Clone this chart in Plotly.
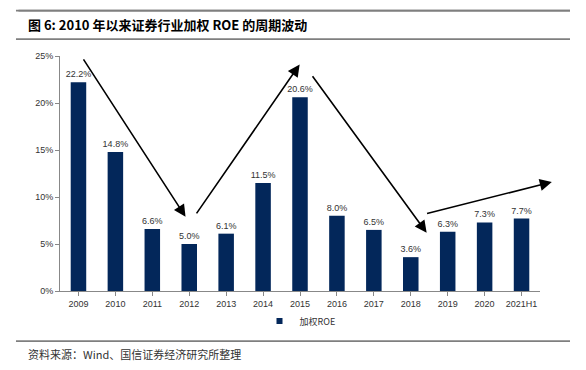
import plotly.graph_objects as go

categories = ["2009", "2010", "2011", "2012", "2013", "2014", "2015", "2016", "2017", "2018", "2019", "2020", "2021H1"]
roe = [22.2, 14.8, 6.6, 5.0, 6.1, 11.5, 20.6, 8.0, 6.5, 3.6, 6.3, 7.3, 7.7]
series_name = "加权ROE"
title_text = "图 6: 2010 年以来证券行业加权 ROE 的周期波动"
source_text = "资料来源：Wind、国信证券经济研究所整理"
y_ticks = [0, 5, 10, 15, 20, 25]
y_tick_labels = ["0%", "5%", "10%", "15%", "20%", "25%"]
# trend arrows: (start index, start value, end index, end value)
arrows = [
    (0.11, 24.8, 2.9, 7.9),
    (3.17, 8.1, 5.99, 24.1),
    (6.31, 23.0, 9.43, 6.2),
    (9.40, 8.2, 12.82, 11.6),
]

bar_color = "#03275A"
txt_font = "Liberation Sans"
rule_color = "#7f7f7f"

fig = go.Figure()
fig.add_trace(go.Bar(
    x=list(range(len(categories))), y=roe, name=series_name,
    marker=dict(color=bar_color, line=dict(width=0)),
    width=0.42,
    text=[f"{v:.1f}%" for v in roe], textposition="outside",
    constraintext="none",
    textfont=dict(size=9, color="#333333", family=txt_font),
    cliponaxis=False,
    showlegend=False,
))
# legend swatch
fig.add_trace(go.Scatter(
    x=[None], y=[None], mode="markers", name=series_name,
    marker=dict(symbol="square", size=6, color=bar_color),
    showlegend=True,
))

annotations = []
for (x0, y0, x1, y1) in arrows:
    annotations.append(dict(
        x=x1, y=y1, ax=x0, ay=y0, xref="x", yref="y", axref="x", ayref="y",
        showarrow=True, arrowhead=2, arrowsize=1.5, arrowwidth=1.6,
        arrowcolor="#000000", text="",
    ))
annotations.append(dict(
    x=-0.071, y=1.136, xref="paper", yref="paper", xanchor="left", yanchor="middle",
    text=f"<b>{title_text}</b>", showarrow=False,
    font=dict(size=13, color="#000000", family="Noto Sans CJK SC"),
))
annotations.append(dict(
    x=-0.071, y=-0.268, xref="paper", yref="paper", xanchor="left", yanchor="middle",
    text=source_text, showarrow=False,
    font=dict(size=11, color="#333333", family="Noto Sans CJK SC"),
))
# top rule drawn as a plain annotation line as well
annotations.append(dict(
    x=1.0625, y=1.193, xref="paper", yref="paper", axref="pixel", ayref="pixel",
    ax=-553, ay=0, text="", showarrow=True, arrowhead=0, arrowwidth=1.8,
    arrowcolor=rule_color, standoff=0, startstandoff=0,
))

shapes = []
for yy in [1.072, 1.193, -0.213]:
    shapes.append(dict(type="line", xref="paper", yref="paper",
                       x0=-0.0917, x1=1.0625, y0=yy, y1=yy, layer="above",
                       line=dict(color=rule_color, width=1.8)))

fig.update_layout(
    width=586, height=370,
    margin=dict(l=60, r=46, t=56, b=79),
    paper_bgcolor="white", plot_bgcolor="white",
    annotations=annotations,
    shapes=shapes,
    legend=dict(orientation="h", x=0.5, y=-0.128, xanchor="center", yanchor="middle",
                font=dict(size=9, color="#333333", family="Noto Sans CJK SC"),
                itemwidth=30, bgcolor="rgba(0,0,0,0)"),
    xaxis=dict(
        tickmode="array", tickvals=list(range(len(categories))), ticktext=categories,
        range=[-0.5, len(categories) - 0.5],
        showline=True, linecolor="#888888", linewidth=1,
        ticks="outside", tickson="boundaries", ticklen=4, tickcolor="#888888",
        tickfont=dict(size=9, color="#333333", family=txt_font),
        showgrid=False, zeroline=False,
    ),
    yaxis=dict(
        range=[0, 25], tickvals=y_ticks, ticktext=y_tick_labels,
        showline=True, linecolor="#888888", linewidth=1,
        ticks="outside", ticklen=4, tickcolor="#888888",
        tickfont=dict(size=9, color="#333333", family=txt_font),
        showgrid=False, zeroline=False,
    ),
)

fig.write_html("out.html", config={"displayModeBar": False},
               post_script="document.body.style.margin='0';")
